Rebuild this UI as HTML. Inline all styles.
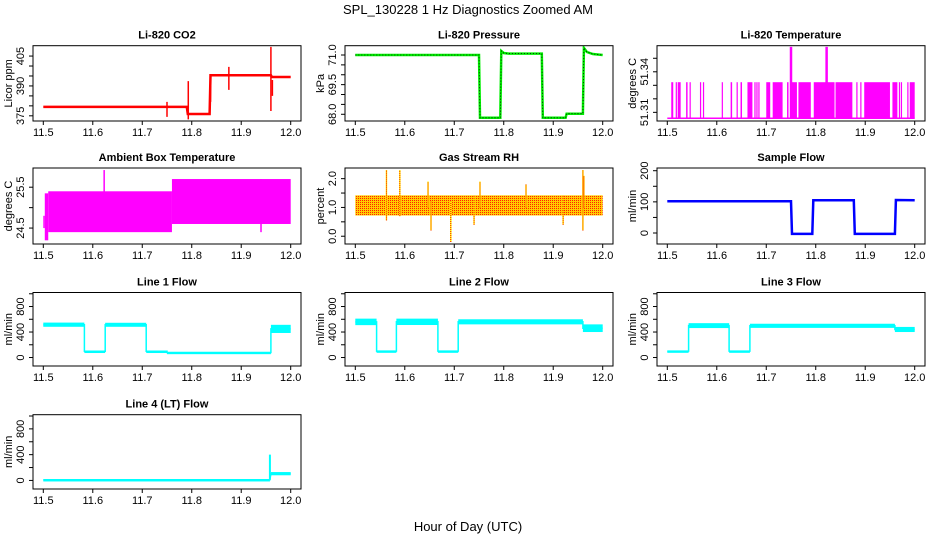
<!DOCTYPE html>
<html><head><meta charset="utf-8"><style>
html,body{margin:0;padding:0;background:#fff}
svg{display:block}
text{font-family:"Liberation Sans",sans-serif;fill:#000}
</style></head><body>
<svg id="chart" width="936" height="540" viewBox="0 0 936 540" xmlns="http://www.w3.org/2000/svg">
<defs>
<pattern id="rhpat" width="2" height="2" patternUnits="userSpaceOnUse">
<rect width="2" height="2" fill="#ffcc00"/><rect width="1" height="1" fill="#ff2200"/>
</pattern>
</defs>
<text x="468" y="14" text-anchor="middle" font-size="13">SPL_130228 1 Hz Diagnostics Zoomed AM</text>
<text x="468" y="531" text-anchor="middle" font-size="13">Hour of Day (UTC)</text>
</svg>
<script>
// ---- data ----
const xTicks = [11.5, 11.6, 11.7, 11.8, 11.9, 12.0];
const xTickLabels = ["11.5", "11.6", "11.7", "11.8", "11.9", "12.0"];

// CO2
const co2T = [11.5, 11.79, 11.792, 11.836, 11.838, 11.96, 11.962, 12.0];
const co2V = [379.5, 379.5, 375.9, 375.9, 395.4, 395.4, 394.5, 394.5];
const co2SpikeT = [11.75, 11.793, 11.838, 11.875, 11.96, 11.963];
const co2SpikeLo = [374.5, 373.2, 382, 388, 377.4, 385];
const co2SpikeHi = [382, 392.4, 396, 399.6, 409.6, 393];

// Pressure
const presT = [11.5, 11.75, 11.752, 11.793, 11.795, 11.80, 11.81, 11.877, 11.879, 11.925, 11.927, 11.96, 11.962, 11.968, 11.98, 12.0];
const presV = [71.0, 71.0, 67.82, 67.82, 71.2, 71.1, 71.07, 71.07, 67.82, 67.82, 68.03, 68.03, 71.36, 71.15, 71.05, 71.0];

// Li-820 temperature
const tempBase = 51.3056;
const tempHigh = 51.3323;
const tempPulseT0 = [11.508, 11.517, 11.521, 11.538, 11.545, 11.566, 11.572, 11.61, 11.628, 11.64, 11.648, 11.662, 11.676, 11.68, 11.684, 11.70, 11.713, 11.742, 11.75, 11.765, 11.796, 11.84, 11.882, 11.89, 11.898, 11.955, 11.968, 11.972, 11.985, 11.99];
const tempPulseT1 = [11.512, 11.518, 11.527, 11.541, 11.546, 11.567, 11.573, 11.612, 11.631, 11.641, 11.651, 11.672, 11.677, 11.681, 11.685, 11.708, 11.733, 11.745, 11.762, 11.79, 11.838, 11.874, 11.883, 11.891, 11.95, 11.965, 11.969, 11.973, 11.986, 12.0];
const tempSpikeT = [11.749, 11.751, 11.821, 11.823];
const tempSpikeV = [51.3584, 51.3584, 51.3584, 51.3584];

// Ambient box temperature
const ambT0 = [11.5, 11.503, 11.51, 11.76];
const ambT1 = [11.503, 11.51, 11.76, 12.0];
const ambLo = [24.5, 24.2, 24.4, 24.6];
const ambHi = [24.8, 25.35, 25.4, 25.7];
const ambSpikeT = [11.623, 11.835, 11.94];
const ambSpikeLo = [25.2, 24.6, 24.4];
const ambSpikeHi = [25.92, 25.7, 25.7];

// Gas stream RH
const rhT0 = [11.5];
const rhT1 = [12.0];
const rhLo = [0.72];
const rhHi = [1.42];
const rhSpikeT = [11.563, 11.59, 11.647, 11.653, 11.693, 11.74, 11.752, 11.845, 11.92, 11.96, 11.962];
const rhSpikeLo = [0.55, 0.7, 1.0, 0.2, -0.2, 0.4, 1.0, 1.0, 0.4, 0.2, 1.0];
const rhSpikeHi = [2.3, 2.3, 1.9, 1.2, 1.2, 1.4, 1.9, 1.8, 1.4, 2.3, 2.1];

// Sample flow
const sfT = [11.5, 11.75, 11.752, 11.793, 11.795, 11.877, 11.879, 11.96, 11.962, 12.0];
const sfV = [102, 102, -3, -3, 105, 105, -3, -3, 106, 105];

// Line flows: bands [t0,t1,lo,hi]
const l1T0 = [11.5, 11.583, 11.625, 11.708, 11.75, 11.96];
const l1T1 = [11.583, 11.625, 11.708, 11.75, 11.96, 12.0];
const l1Lo = [482, 92, 482, 92, 74, 385];
const l1Hi = [548, 102, 545, 102, 84, 513];

const l2T0 = [11.5, 11.543, 11.583, 11.667, 11.708, 11.96];
const l2T1 = [11.543, 11.583, 11.667, 11.708, 11.96, 12.0];
const l2Lo = [508, 95, 510, 95, 520, 400];
const l2Hi = [610, 105, 610, 105, 600, 520];

const l3T0 = [11.5, 11.543, 11.625, 11.667, 11.96];
const l3T1 = [11.543, 11.625, 11.667, 11.96, 12.0];
const l3Lo = [95, 462, 95, 465, 400];
const l3Hi = [105, 539, 105, 530, 480];

const l4T0 = [11.5, 11.96];
const l4T1 = [11.958, 12.0];
const l4Lo = [5, 80];
const l4Hi = [15, 130];
const l4SpikeT = [11.958];
const l4SpikeLo = [10];
const l4SpikeHi = [401];

// ---- drawing ----
const NS = "http://www.w3.org/2000/svg";
const svg = document.getElementById("chart");
const rowTop = [45.7, 168, 292.5, 414.7];
const rowBot = [121, 244, 366, 489];

function mk(tag, attrs, parent) {
  const e = document.createElementNS(NS, tag);
  for (const k in attrs) e.setAttribute(k, attrs[k]);
  (parent || svg).appendChild(e);
  return e;
}

function panel(c, r, name, title, ytitle, dom, ticks, labels) {
  const g = mk("g", {});
  
  
  const bx0 = 33 + 312 * c, bx1 = 301 + 312 * c, by0 = rowTop[r], by1 = rowBot[r];
  const X = t => 43.3 + 312 * c + (t - 11.5) / 0.5 * 247.4;
  const Y = v => by1 - (v - dom[0]) / (dom[1] - dom[0]) * (by1 - by0);
  const clipId = "clip-" + name;
  const cp = mk("clipPath", { id: clipId }, g);
  mk("rect", { x: bx0, y: by0, width: bx1 - bx0, height: by1 - by0 }, cp);
  const plot = mk("g", { "clip-path": "url(#" + clipId + ")" }, g);
  
  
  const box = mk("rect", { x: bx0, y: by0, width: bx1 - bx0, height: by1 - by0, fill: "none", stroke: "#000", "stroke-width": 1 }, g);
  
  
  const tt = mk("text", { x: (bx0 + bx1) / 2, y: by0 - 7, "text-anchor": "middle", "font-size": 11, "font-weight": "bold" }, g);
  
  
  tt.textContent = title;
  xTicks.forEach((t, i) => {
    mk("line", { x1: X(t), x2: X(t), y1: by1, y2: by1 + 4, stroke: "#000" }, g);
    const lt = mk("text", { x: X(t), y: by1 + 15, "text-anchor": "middle", "font-size": 11 }, g);
    
    
    lt.textContent = xTickLabels[i];
  });
  ticks.forEach(v => {
    mk("line", { x1: bx0, x2: bx0 - 4, y1: Y(v), y2: Y(v), stroke: "#000" }, g);
  });
  labels.forEach(l => {
    const yy = Y(parseFloat(l));
    const lt = mk("text", { x: 0, y: 0, "text-anchor": "middle", "font-size": 11, transform: "translate(" + (bx0 - 9) + "," + yy + ") rotate(-90)" }, g);
    
    
    lt.textContent = l;
  });
  const yt = mk("text", { x: 0, y: 0, "text-anchor": "middle", "font-size": 11, transform: "translate(" + (bx0 - 21) + "," + ((by0 + by1) / 2) + ") rotate(-90)" }, g);
  
  
  yt.textContent = ytitle;
  return { X, Y, plot };
}

function poly(p, ts, vs, attrs, nm) {
  const pts = ts.map((t, i) => p.X(t).toFixed(1) + "," + p.Y(vs[i]).toFixed(1)).join(" ");
  const e = mk("polyline", Object.assign({ points: pts, fill: "none" }, attrs), p.plot);
  
  
  return e;
}
function spikes(p, ts, lo, hi, attrs, nm) {
  ts.forEach((t, i) => {
    const e = mk("line", Object.assign({ x1: p.X(t), x2: p.X(t), y1: p.Y(lo[i]), y2: p.Y(hi[i]) }, attrs), p.plot);
    
    
  });
}
function bands(p, t0, t1, lo, hi, fill, nm, stroke) {
  t0.forEach((t, i) => {
    const e = mk("rect", { x: p.X(t), y: p.Y(hi[i]), width: Math.max(1, p.X(t1[i]) - p.X(t)), height: Math.max(2, p.Y(lo[i]) - p.Y(hi[i])), fill: fill }, p.plot);
    
    
  });
  if (stroke) {
    const ts = [], vs = [];
    t0.forEach((t, i) => { ts.push(t, t1[i]); vs.push((lo[i] + hi[i]) / 2, (lo[i] + hi[i]) / 2); });
    poly(p, ts, vs, { stroke: stroke, "stroke-width": 1.5 }, nm + "-connector");
  }
}

// CO2
let p = panel(0, 0, "co2", "Li-820 CO2", "Licor ppm", [372.4, 410.2], [375, 380, 385, 390, 395, 400, 405], ["375", "390", "405"]);
poly(p, co2T, co2V, { stroke: "#ff0000", "stroke-width": 2.5 }, "co2-line");
spikes(p, co2SpikeT, co2SpikeLo, co2SpikeHi, { stroke: "#ff0000", "stroke-width": 1.5 }, "co2-spike");

// Pressure
p = panel(1, 0, "pressure", "Li-820 Pressure", "kPa", [67.66, 71.47], [68, 68.5, 69, 69.5, 70, 70.5, 71], ["68.0", "69.5", "71.0"]);
poly(p, presT, presV, { stroke: "#00ee00", "stroke-width": 2.5 }, "pressure-line");
poly(p, presT, presV, { stroke: "#000", "stroke-width": 0.8, "stroke-dasharray": "1,2" }, "pressure-dotted-line");

// Temperature
p = panel(2, 0, "li820-temperature", "Li-820 Temperature", "degrees C", [51.3036, 51.3593], [51.31, 51.32, 51.33, 51.34, 51.35], ["51.31", "51.34"]);
poly(p, [11.5, 12.0], [tempBase, tempBase], { stroke: "#ff00ff", "stroke-width": 1.5 }, "temperature-baseline");
tempPulseT0.forEach((t, i) => {
  const e = mk("rect", { x: p.X(t), y: p.Y(tempHigh), width: Math.max(1.2, p.X(tempPulseT1[i]) - p.X(t)), height: p.Y(tempBase) - p.Y(tempHigh), fill: "#ff00ff" }, p.plot);
  
  
});
spikes(p, tempSpikeT, tempSpikeT.map(() => tempBase), tempSpikeV, { stroke: "#ff00ff", "stroke-width": 1.5 }, "temperature-spike");

// Ambient
p = panel(0, 1, "ambient", "Ambient Box Temperature", "degrees C", [24.11, 25.97], [24.5, 25, 25.5], ["24.5", "25.5"]);
bands(p, ambT0, ambT1, ambLo, ambHi, "#ff00ff", "ambient-band");
spikes(p, ambSpikeT, ambSpikeLo, ambSpikeHi, { stroke: "#ff00ff", "stroke-width": 1.5 }, "ambient-spike");

// RH
p = panel(1, 1, "rh", "Gas Stream RH", "percent", [-0.27, 2.37], [0, 0.5, 1, 1.5, 2], ["0.0", "1.0", "2.0"]);
bands(p, rhT0, rhT1, rhLo, rhHi, "url(#rhpat)", "rh-band");
spikes(p, rhSpikeT, rhSpikeLo, rhSpikeHi, { stroke: "#ffff00", "stroke-width": 1.5 }, "rh-spike");
spikes(p, rhSpikeT, rhSpikeLo, rhSpikeHi, { stroke: "#ff0000", "stroke-width": 1, "stroke-dasharray": "1,1" }, "rh-spike-dots");

// Sample flow
p = panel(2, 1, "sample-flow", "Sample Flow", "ml/min", [-35.3, 208.7], [0, 50, 100, 150, 200], ["0", "100", "200"]);
poly(p, sfT, sfV, { stroke: "#0000ff", "stroke-width": 2.5 }, "sample-flow-line");

// Lines
const fTicks = [0, 200, 400, 600, 800, 1000];
const fLabels = ["0", "400", "800"];
p = panel(0, 2, "line1-flow", "Line 1 Flow", "ml/min", [-133, 1020], fTicks, fLabels);
bands(p, l1T0, l1T1, l1Lo, l1Hi, "#00ffff", "line1-band", "#00ffff");
p = panel(1, 2, "line2-flow", "Line 2 Flow", "ml/min", [-133, 1020], fTicks, fLabels);
bands(p, l2T0, l2T1, l2Lo, l2Hi, "#00ffff", "line2-band", "#00ffff");
p = panel(2, 2, "line3-flow", "Line 3 Flow", "ml/min", [-133, 1020], fTicks, fLabels);
bands(p, l3T0, l3T1, l3Lo, l3Hi, "#00ffff", "line3-band", "#00ffff");
p = panel(0, 3, "line4-flow", "Line 4 (LT) Flow", "ml/min", [-133, 1020], fTicks, fLabels);
bands(p, l4T0, l4T1, l4Lo, l4Hi, "#00ffff", "line4-band", "#00ffff");
spikes(p, l4SpikeT, l4SpikeLo, l4SpikeHi, { stroke: "#00ffff", "stroke-width": 2 }, "line4-spike");
</script>
</body></html>
